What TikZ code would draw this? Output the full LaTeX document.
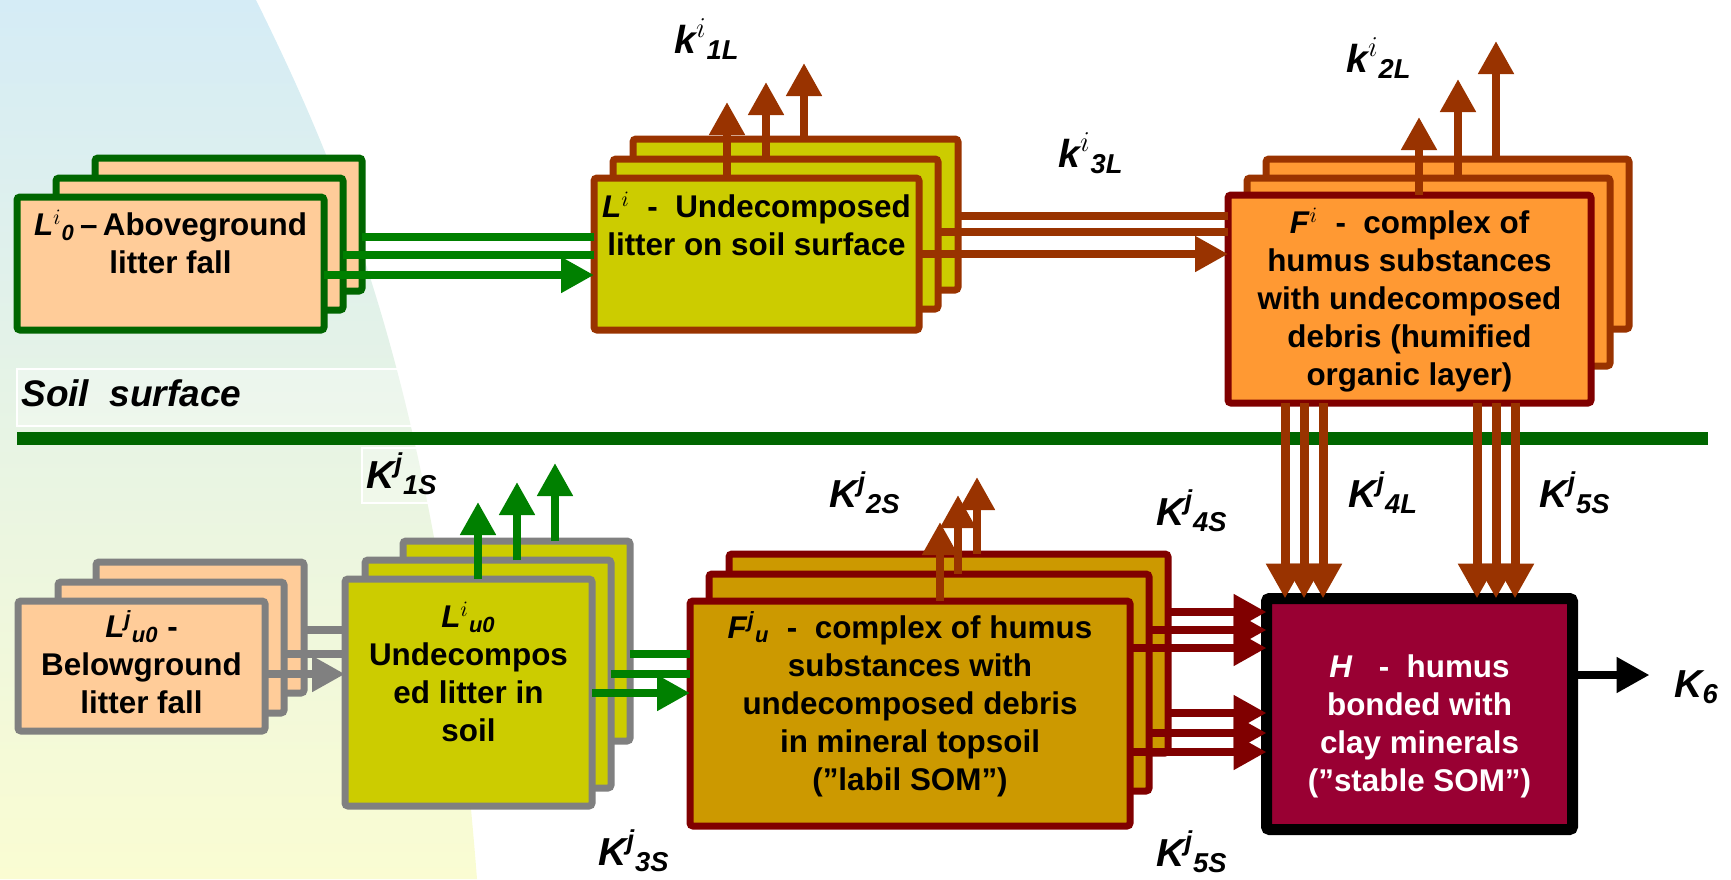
\documentclass[tikz,border=0pt]{standalone}
\usepackage{fontspec}
\setmainfont{Liberation Sans}
\usepackage{amsmath}
\usetikzlibrary{
  arrows.meta,
  positioning,
  fit,
  calc
}
\definecolor{litgreen}{HTML}{006600}
\definecolor{arrgreen}{HTML}{008000}
\definecolor{peach}{HTML}{FFCC99}
\definecolor{olivefill}{HTML}{CCCC00}
\definecolor{rust}{HTML}{993300}
\definecolor{darkred}{HTML}{800000}
\definecolor{humorange}{HTML}{FF9933}
\definecolor{goldfill}{HTML}{CC9900}
\definecolor{crimsonfill}{HTML}{990033}
\definecolor{ash}{HTML}{808080}
\definecolor{skytop}{HTML}{D5ECF6}
\definecolor{skymid}{HTML}{E5F3E6}
\definecolor{skybot}{HTML}{FAFCD2}
\tikzset{
  layer/.style={draw, line width=3.5pt, rounded corners=1.5pt,
    inner sep=0pt, outer sep=0pt},
  litlayer/.style={layer, draw=litgreen, fill=peach},
  litsoillayer/.style={layer, draw=ash, fill=peach},
  surflayer/.style={layer, draw=rust, fill=olivefill},
  soillayer/.style={layer, draw=ash, fill=olivefill},
  humlayer/.style={layer, draw=rust, fill=humorange},
  humfront/.style={layer, draw=darkred, fill=humorange},
  somlayer/.style={layer, draw=darkred, fill=goldfill},
  stablebox/.style={layer, draw=black, line width=5.5pt, fill=crimsonfill},
  notebox/.style={draw=white, line width=0.8pt, fill=white, fill opacity=0.3,
    inner sep=0pt},
  pooltext/.style={font=\fontsize{15.7}{19}\selectfont\bfseries,
    align=center, inner sep=0pt, anchor=north},
  klabel/.style={font=\fontsize{19.5}{22}\selectfont\bfseries\itshape,
    inner sep=0pt, anchor=base west},
  flow/.style={line width=4pt},
  flowhead/.style={flow, -{Triangle[length=16.5pt, width=17pt]}},
  downhead/.style={line width=4.5pt, -{Triangle[length=17.5pt, width=18pt]}},
}
\newcommand{\topline}{\rule{0pt}{15pt}}

\begin{document}
\begin{tikzpicture}[x=0.5pt, y=-0.5pt]
  \useasboundingbox (0,0) rectangle (1731,879);
  % Background
  \shade[top color=skytop, middle color=skymid, bottom color=skybot]
    (0,0) -- (256,0) .. controls (340,170) and (440,400) .. (477,879)
    -- (0,879) -- cycle;

  % Soil surface
  \node[notebox, fit={(17,369) (417,426)}] (soilbox) {};
  \node[font=\fontsize{18.5}{22}\selectfont\bfseries\itshape,
        anchor=base west, inner sep=0pt] (soiltxt) at (21,406)
    {Soil\ \ surface};
  \coordinate (soilW) at (17,438.5);
  \coordinate (soilE) at (1708,438.5);
  \draw[litgreen, line width=6.5pt] (soilW) -- (soilE);

  % Aboveground litter fall
  \node[litlayer, fit={(95,158) (362,291)}] (L0c) {};
  \node[litlayer, fit={(56,178) (343,310)}] (L0b) {};
  \node[litlayer, fit={(17,197) (324,330)}] (L0) {};
  \node[pooltext] (L0txt) at ([yshift=-4pt]L0.north)
    {\topline\textit{L}\textsuperscript{$i$}\textsubscript{\textit{0}}\,--\,Aboveground\\
     litter fall};

  % Undecomposed litter on soil surface
  \node[surflayer, fit={(633,139) (958,290)}] (Lic) {};
  \node[surflayer, fit={(613,159) (938,309)}] (Lib) {};
  \node[surflayer, fit={(594,178) (919,330)}] (Li) {};
  \node[pooltext] (Litxt) at ([yshift=-4.5pt]Li.north)
    {\topline\textit{L}\textsuperscript{$i$}\ \ -\ \ Undecomposed\\
     litter on soil surface};

  % Humified organic layer
  \node[humlayer, fit={(1266,159) (1629,329)}] (Fc) {};
  \node[humlayer, fit={(1247,178) (1610,366)}] (Fb) {};
  \node[humfront, fit={(1228,195) (1591,403)}] (F) {};
  \node[pooltext] (Ftxt) at ([yshift=-4pt]F.north)
    {\topline\textit{F}\textsuperscript{$i$}\ \ -\ \ complex of\\
     humus substances\\
     with undecomposed\\
     debris (humified\\
     organic layer)};

  % Belowground litter fall
  \node[litsoillayer, fit={(96,562) (304,693)}] (Lu0c) {};
  \node[litsoillayer, fit={(58,582) (284,713)}] (Lu0b) {};
  \node[litsoillayer, fit={(18,601) (265,731)}] (Lu0) {};
  \node[pooltext] (Lu0txt) at ([yshift=-3pt]Lu0.north)
    {\topline\textit{L}\textsuperscript{\textit{j}}\textsubscript{\textit{u0}} -\\
     Belowground\\
     litter fall};

  % Undecomposed litter in soil
  \node[soillayer, fit={(403,541) (630,741)}] (Luc) {};
  \node[soillayer, fit={(365,560) (611,788)}] (Lub) {};
  \node[soillayer, fit={(345,579) (592,806)}] (Lu) {};
  \node[pooltext] (Lutxt) at ([yshift=-9pt]Lu.north)
    {\topline\textit{L}\textsuperscript{$i$}\textsubscript{\textit{u0}}\\
     Undecompos\\
     ed litter in\\
     soil};

  % Labile SOM in mineral topsoil
  \node[somlayer, fit={(729,554) (1168,753)}] (Fuc) {};
  \node[somlayer, fit={(709,574) (1149,791)}] (Fub) {};
  \node[somlayer, fit={(690,601) (1130,826)}] (Fu) {};
  \node[pooltext] (Futxt) at ([yshift=-3.5pt]Fu.north)
    {\topline\textit{F}\textsuperscript{\textit{j}}\textsubscript{\textit{u}}\ \ -\ \ complex of humus\\
     substances with\\
     undecomposed debris\\
     in mineral topsoil\\
     (”labil SOM”)};

  % Stable SOM
  \node[stablebox, fit={(1266.5,598.5) (1572.5,829.5)}] (H) {};
  \node[pooltext, text=white] (Htxt) at ([yshift=-24.25pt]H.north)
    {\topline\textit{H}\ \ \ -\ \ humus\\
     bonded with\\
     clay minerals\\
     (”stable SOM”)};

  % Flows above the soil surface
  \draw[flow, arrgreen] (L0c.east |- 0,237) -- (Li.west |- 0,237);
  \draw[flow, arrgreen] (L0b.east |- 0,255) -- (Li.west |- 0,255);
  \draw[flowhead, arrgreen] (L0.east |- 0,275) -- (Li.west |- 0,275);
  \draw[flow, rust] (Lic.east |- 0,216) -- (F.west |- 0,216);
  \draw[flow, rust] (Lib.east |- 0,232) -- (F.west |- 0,232);
  \draw[flowhead, rust] (Li.east |- 0,254) -- (F.west |- 0,254);
  \draw[flowhead, rust] (Li.north -| 727,0) -- ++(0,-76);
  \draw[flowhead, rust] (Lib.north -| 766,0) -- ++(0,-77);
  \draw[flowhead, rust] (Lic.north -| 804,0) -- ++(0,-76);
  \draw[flowhead, rust] (F.north -| 1419,0) -- ++(0,-78);
  \draw[flowhead, rust] (Fb.north -| 1458,0) -- ++(0,-99);
  \draw[flowhead, rust] (Fc.north -| 1496,0) -- ++(0,-118);

  % Flows below the soil surface
  \draw[flow, ash] (Lu0c.east |- 0,630) -- (Lu.west |- 0,630);
  \draw[flow, ash] (Lu0b.east |- 0,654) -- (Lu.west |- 0,654);
  \draw[flowhead, ash] (Lu0.east |- 0,674) -- (Lu.west |- 0,674);
  \draw[flow, arrgreen] (Luc.east |- 0,654) -- (Fu.west |- 0,654);
  \draw[flow, arrgreen] (Lub.east |- 0,674) -- (Fu.west |- 0,674);
  \draw[flowhead, arrgreen] (Lu.east |- 0,693) -- (Fu.west |- 0,693);
  \draw[flowhead, arrgreen] (Lu.north -| 478,0) -- ++(0,-77);
  \draw[flowhead, arrgreen] (Lub.north -| 517,0) -- ++(0,-78);
  \draw[flowhead, arrgreen] (Luc.north -| 555,0) -- ++(0,-78);
  \draw[flowhead, rust] (Fu.north -| 940,0) -- ++(0,-79);
  \draw[flowhead, rust] (Fub.north -| 958,0) -- ++(0,-79);
  \draw[flowhead, rust] (Fuc.north -| 977,0) -- ++(0,-77);
  \foreach \y/\src in {612/Fuc, 630/Fub, 648/Fu, 713/Fuc, 733/Fub, 752/Fu}
    \draw[flowhead, darkred] (\src.east |- 0,\y) -- (H.west |- 0,\y);
  \foreach \x in {1285, 1304, 1323, 1477, 1496, 1515}
    \draw[downhead, rust] (F.south -| \x,0) -- (H.north -| \x,0);
  \draw[flowhead, black] (H.east |- 0,675) -- ++(77,0);

  % Rate labels
  \node[klabel] (k1L) at (674,53) {k\textsuperscript{$i$}\textsubscript{1L}};
  \node[klabel] (k2L) at (1346,72) {k\textsuperscript{$i$}\textsubscript{2L}};
  \node[klabel] (k3L) at (1058,167) {k\textsuperscript{$i$}\textsubscript{3L}};
  \node[notebox, fit={(362,448) (435,503)}] (K1Sbox) {};
  \node[klabel] (K1S) at (366,488) {K\textsuperscript{j}\textsubscript{1S}};
  \node[klabel] (K2S) at (829,507) {K\textsuperscript{j}\textsubscript{2S}};
  \node[klabel] (K3S) at (598,865) {K\textsuperscript{j}\textsubscript{3S}};
  \node[klabel] (K4S) at (1156,525) {K\textsuperscript{j}\textsubscript{4S}};
  \node[klabel] (K5Slow) at (1156,866) {K\textsuperscript{j}\textsubscript{5S}};
  \node[klabel] (K4L) at (1348,507) {K\textsuperscript{j}\textsubscript{4L}};
  \node[klabel] (K5S) at (1539,507) {K\textsuperscript{j}\textsubscript{5S}};
  \node[klabel] (K6) at (1674,697) {K\textsubscript{6}};
\end{tikzpicture}
\end{document}
